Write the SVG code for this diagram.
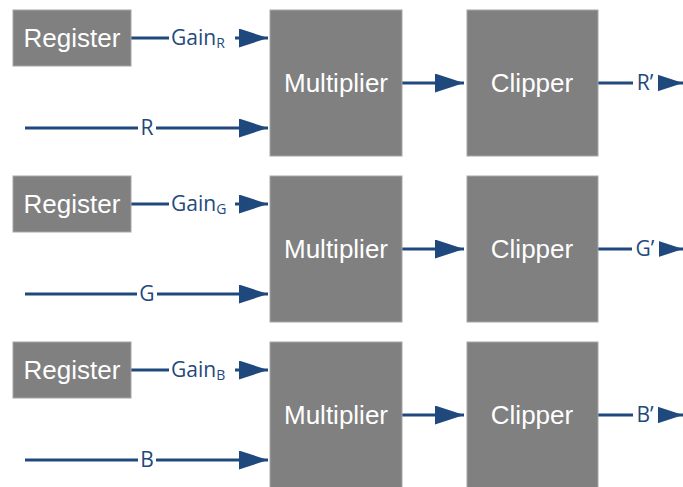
<svg xmlns="http://www.w3.org/2000/svg" width="683" height="487" viewBox="0 0 683 487">
<defs>
<style>
.box{fill:#808080;stroke:#a6a6a6;stroke-width:1}
.bt{fill:#ffffff;font-family:"Liberation Sans",Arial,sans-serif;font-size:26px;text-anchor:middle;dominant-baseline:central}
.ln{stroke:#1f497d;stroke-width:3;fill:none}
.lb{fill:#1f497d;font-family:"Open Sans","Noto Sans",sans-serif;font-size:21px;text-anchor:middle;dominant-baseline:central}
.gl{fill:#1f497d;font-family:"Open Sans","Noto Sans",sans-serif;font-size:21px;dominant-baseline:central}
.bg{fill:#ffffff}
</style>
<marker id="ah" viewBox="0 0 10 10" refX="10" refY="5" markerUnits="userSpaceOnUse" markerWidth="29" markerHeight="19" orient="auto" preserveAspectRatio="none">
<path d="M0,0 L10,5 L0,10 Z" fill="#1f497d"/>
</marker>
</defs>
<g id="connectors">
<g id="row1c">
<line class="ln" x1="131" y1="38" x2="268" y2="38" marker-end="url(#ah)"/>
<rect class="bg" x="169" y="25" width="66" height="28"/>
<text class="gl" x="171" y="37">Gain<tspan font-size="14" dy="5">R</tspan></text>
<line class="ln" x1="25" y1="128" x2="268" y2="128" marker-end="url(#ah)"/>
<rect class="bg" x="138" y="115" width="18" height="26"/>
<text class="lb" x="147" y="127">R</text>
<line class="ln" x1="402" y1="83" x2="464" y2="83" marker-end="url(#ah)"/>
<line class="ln" x1="598" y1="83" x2="683" y2="83" marker-end="url(#ah)"/>
<rect class="bg" x="633" y="70" width="25" height="26"/>
<text class="lb" x="645" y="82">R’</text>
</g>
<g id="row2c" transform="translate(0,166)">
<line class="ln" x1="131" y1="38" x2="268" y2="38" marker-end="url(#ah)"/>
<rect class="bg" x="169" y="25" width="66" height="28"/>
<text class="gl" x="171" y="37">Gain<tspan font-size="14" dy="5">G</tspan></text>
<line class="ln" x1="25" y1="128" x2="268" y2="128" marker-end="url(#ah)"/>
<rect class="bg" x="137" y="115" width="20" height="26"/>
<text class="lb" x="147" y="127">G</text>
<line class="ln" x1="402" y1="83" x2="464" y2="83" marker-end="url(#ah)"/>
<line class="ln" x1="598" y1="83" x2="683" y2="83" marker-end="url(#ah)"/>
<rect class="bg" x="632" y="70" width="27" height="26"/>
<text class="lb" x="645" y="82">G’</text>
</g>
<g id="row3c" transform="translate(0,332)">
<line class="ln" x1="131" y1="38" x2="268" y2="38" marker-end="url(#ah)"/>
<rect class="bg" x="169" y="25" width="66" height="28"/>
<text class="gl" x="171" y="37">Gain<tspan font-size="14" dy="5">B</tspan></text>
<line class="ln" x1="25" y1="128" x2="268" y2="128" marker-end="url(#ah)"/>
<rect class="bg" x="138" y="115" width="18" height="26"/>
<text class="lb" x="147" y="127">B</text>
<line class="ln" x1="402" y1="83" x2="464" y2="83" marker-end="url(#ah)"/>
<line class="ln" x1="598" y1="83" x2="683" y2="83" marker-end="url(#ah)"/>
<rect class="bg" x="633" y="70" width="25" height="26"/>
<text class="lb" x="645" y="82">B’</text>
</g>
</g>
<g id="register1"><rect class="box" x="13" y="10" width="118" height="56"/><text class="bt" x="72" y="38">Register</text></g>
<g id="multiplier1"><rect class="box" x="270" y="10" width="132" height="146"/><text class="bt" x="336" y="83">Multiplier</text></g>
<g id="clipper1"><rect class="box" x="467" y="10" width="131" height="146"/><text class="bt" x="532" y="83">Clipper</text></g>
<g id="register2"><rect class="box" x="13" y="176" width="118" height="56"/><text class="bt" x="72" y="204">Register</text></g>
<g id="multiplier2"><rect class="box" x="270" y="176" width="132" height="146"/><text class="bt" x="336" y="249">Multiplier</text></g>
<g id="clipper2"><rect class="box" x="467" y="176" width="131" height="146"/><text class="bt" x="532" y="249">Clipper</text></g>
<g id="register3"><rect class="box" x="13" y="342" width="118" height="56"/><text class="bt" x="72" y="370">Register</text></g>
<g id="multiplier3"><rect class="box" x="270" y="342" width="132" height="146"/><text class="bt" x="336" y="415">Multiplier</text></g>
<g id="clipper3"><rect class="box" x="467" y="342" width="131" height="146"/><text class="bt" x="532" y="415">Clipper</text></g>
</svg>
